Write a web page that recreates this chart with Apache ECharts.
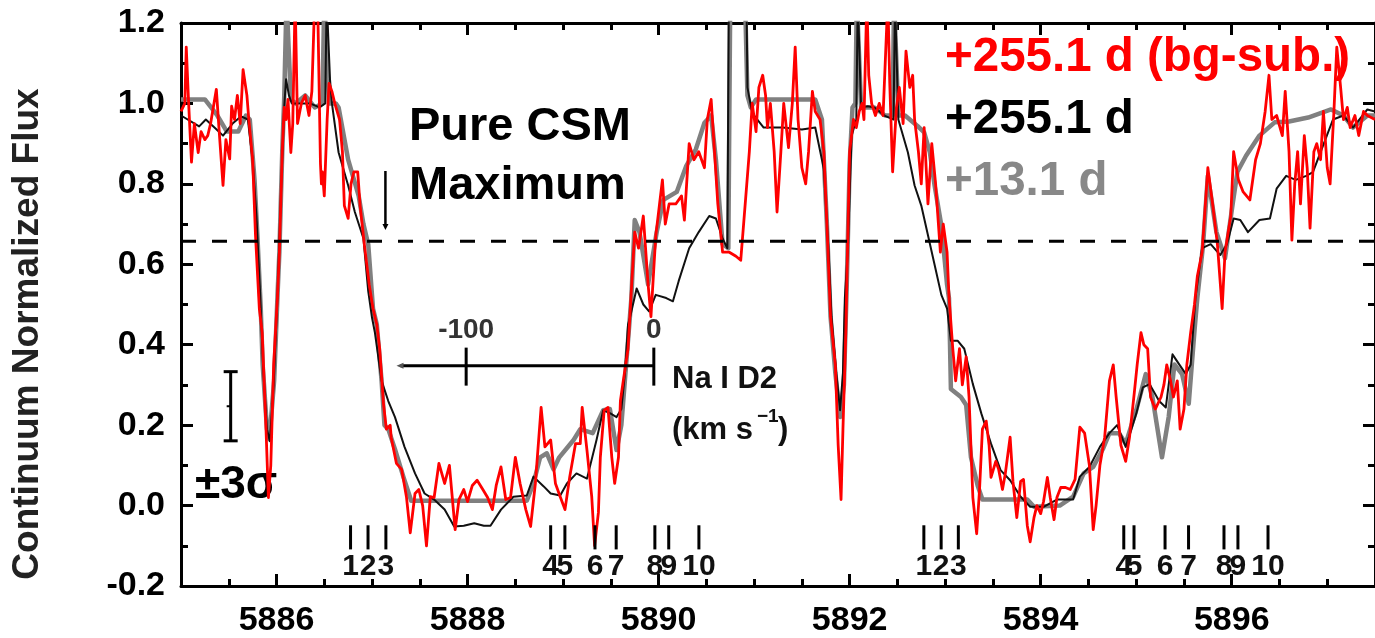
<!DOCTYPE html>
<html>
<head>
<meta charset="utf-8">
<script src="https://cdn.jsdelivr.net/npm/echarts@6/dist/echarts.min.js"></script>
<style>
html,body{margin:0;padding:0;background:#fff;}
#chart{width:1375px;height:638px;}
</style>
</head>
<body>
<div id="chart"></div>
<script>
// ---------------- DATA ----------------
const xMin = 5885, xMax = 5897.5;
const yMin = -0.2, yMax = 1.2;
const xMajorTicks = [5886, 5888, 5890, 5892, 5894, 5896];
const csmLevel = 0.657;            // "Pure CSM Maximum" dashed level
const arrowWave = 5887.14, arrowFrom = 0.832, arrowTo = 0.685;
const sigmaWave = 5885.52, sigmaLow = 0.161, sigmaMid = 0.247, sigmaHigh = 0.333;
const naD2Rest = 5889.95, lightSpeed = 299792.458;
const velTicks = [-100, 0];
const velTickLabels = ['-100', '0'];
const velBarStart = -135, velBarLevel = 0.348;
const markerWaves = [5886.775, 5886.958, 5887.145, 5888.870, 5889.019, 5889.334, 5889.556, 5889.961, 5890.106, 5890.422,
                     5892.777, 5892.958, 5893.138, 5894.870, 5894.977, 5895.302, 5895.548, 5895.919, 5896.065, 5896.380];
const markerLabels = ['1','2','3','4','5','6','7','8','9','10','1','2','3','4','5','6','7','8','9','10'];
const markerTop = -0.049, markerBottom = -0.109;

// +13.1 d (grey)
const greyData = [[5885.00,1.01],[5885.25,1.01],[5885.38,0.97],[5885.48,0.93],[5885.60,0.93],[5885.68,0.97],[5885.72,0.96],[5885.77,0.81],[5885.80,0.67],[5885.835,0.49],[5885.855,0.35],[5885.90,0.19],[5885.925,0.165],[5885.975,0.31],[5886.01,0.52],[5886.03,0.63],[5886.06,0.88],[5886.08,1.01],[5886.105,1.26],[5886.125,1.26],[5886.15,1.01],[5886.20,1.00],[5886.30,1.02],[5886.40,0.99],[5886.48,1.00],[5886.50,1.26],[5886.52,1.26],[5886.55,1.00],[5886.62,1.00],[5886.65,0.99],[5886.75,0.86],[5886.86,0.77],[5886.91,0.70],[5886.96,0.65],[5887.01,0.49],[5887.05,0.45],[5887.10,0.31],[5887.13,0.20],[5887.17,0.19],[5887.24,0.14],[5887.33,0.07],[5887.41,0.012],[5888.00,0.012],[5888.62,0.012],[5888.69,0.055],[5888.76,0.12],[5888.83,0.13],[5888.90,0.09],[5888.96,0.12],[5889.11,0.163],[5889.18,0.19],[5889.31,0.18],[5889.42,0.237],[5889.49,0.24],[5889.56,0.138],[5889.61,0.20],[5889.66,0.35],[5889.715,0.516],[5889.75,0.71],[5889.80,0.68],[5889.89,0.55],[5889.98,0.68],[5890.05,0.76],[5890.19,0.78],[5890.29,0.845],[5890.39,0.886],[5890.48,0.952],[5890.55,0.97],[5890.60,0.86],[5890.67,0.65],[5890.73,0.64],[5890.75,1.26],[5890.905,1.26],[5890.93,1.02],[5890.965,0.99],[5891.02,1.01],[5891.64,1.01],[5891.71,0.96],[5891.76,0.71],[5891.80,0.47],[5891.85,0.33],[5891.90,0.22],[5891.94,0.30],[5891.97,0.55],[5892.00,0.85],[5892.03,0.99],[5892.06,1.00],[5892.075,1.26],[5892.095,1.26],[5892.12,0.99],[5892.26,0.99],[5892.37,0.97],[5892.45,0.97],[5892.465,1.26],[5892.485,1.26],[5892.51,0.97],[5892.58,0.97],[5892.71,0.944],[5892.78,0.928],[5892.84,0.878],[5892.89,0.795],[5892.96,0.697],[5893.02,0.549],[5893.04,0.516],[5893.05,0.41],[5893.06,0.29],[5893.165,0.27],[5893.22,0.25],[5893.27,0.12],[5893.34,0.05],[5893.39,0.015],[5893.86,0.015],[5893.93,-0.003],[5894.20,0.0],[5894.34,0.022],[5894.45,0.08],[5894.55,0.096],[5894.65,0.14],[5894.72,0.18],[5894.82,0.18],[5894.89,0.154],[5895.00,0.237],[5895.10,0.327],[5895.17,0.27],[5895.27,0.12],[5895.34,0.22],[5895.40,0.351],[5895.48,0.327],[5895.55,0.253],[5895.61,0.434],[5895.64,0.516],[5895.70,0.648],[5895.75,0.82],[5895.84,0.68],[5895.93,0.615],[5896.01,0.75],[5896.06,0.83],[5896.15,0.87],[5896.29,0.92],[5896.45,0.953],[5896.60,0.955],[5896.80,0.965],[5897.04,0.985],[5897.17,0.97],[5897.27,0.94],[5897.42,0.97],[5897.50,0.97]];

// +255.1 d (black)
const blackData = [[5885.00,0.97],[5885.19,0.943],[5885.26,0.96],[5885.37,0.936],[5885.44,0.92],[5885.54,0.95],[5885.63,0.968],[5885.70,0.96],[5885.75,0.86],[5885.79,0.72],[5885.83,0.52],[5885.86,0.34],[5885.90,0.19],[5885.93,0.16],[5885.97,0.30],[5886.01,0.52],[5886.05,0.80],[5886.08,0.99],[5886.10,1.06],[5886.13,1.02],[5886.16,1.00],[5886.25,1.00],[5886.35,1.00],[5886.45,0.99],[5886.51,1.00],[5886.525,1.26],[5886.545,1.26],[5886.56,1.06],[5886.58,1.00],[5886.65,0.878],[5886.75,0.796],[5886.82,0.73],[5886.91,0.664],[5886.96,0.533],[5887.00,0.467],[5887.03,0.43],[5887.10,0.31],[5887.17,0.26],[5887.24,0.22],[5887.34,0.146],[5887.45,0.08],[5887.55,0.03],[5887.65,0.015],[5887.76,-0.01],[5887.86,-0.052],[5887.96,-0.05],[5888.07,-0.044],[5888.17,-0.05],[5888.24,-0.05],[5888.35,-0.01],[5888.48,0.022],[5888.62,0.025],[5888.69,0.072],[5888.80,0.047],[5888.87,0.03],[5888.97,0.025],[5889.04,0.055],[5889.14,0.08],[5889.25,0.067],[5889.35,0.163],[5889.42,0.237],[5889.49,0.23],[5889.56,0.22],[5889.61,0.24],[5889.65,0.335],[5889.68,0.45],[5889.70,0.467],[5889.77,0.54],[5889.84,0.50],[5889.90,0.483],[5889.97,0.524],[5890.08,0.516],[5890.15,0.508],[5890.21,0.558],[5890.32,0.64],[5890.42,0.68],[5890.53,0.72],[5890.60,0.714],[5890.67,0.664],[5890.72,0.64],[5890.735,1.26],[5890.92,1.26],[5890.93,1.04],[5890.98,0.976],[5891.10,0.94],[5891.30,0.94],[5891.50,0.935],[5891.64,0.94],[5891.73,0.837],[5891.78,0.63],[5891.81,0.47],[5891.86,0.33],[5891.90,0.237],[5891.93,0.33],[5891.95,0.516],[5891.98,0.63],[5892.02,0.919],[5892.07,0.96],[5892.085,1.26],[5892.105,1.26],[5892.12,0.99],[5892.19,0.993],[5892.26,0.99],[5892.37,0.969],[5892.46,0.96],[5892.475,1.26],[5892.495,1.26],[5892.51,0.96],[5892.61,0.878],[5892.68,0.796],[5892.75,0.746],[5892.82,0.672],[5892.89,0.598],[5892.96,0.524],[5893.02,0.49],[5893.06,0.41],[5893.13,0.41],[5893.20,0.39],[5893.29,0.302],[5893.38,0.228],[5893.48,0.154],[5893.58,0.088],[5893.68,0.063],[5893.79,0.022],[5893.89,-0.003],[5894.03,-0.003],[5894.17,0.015],[5894.34,0.015],[5894.41,0.072],[5894.51,0.096],[5894.62,0.146],[5894.72,0.18],[5894.80,0.20],[5894.89,0.146],[5895.00,0.228],[5895.07,0.294],[5895.14,0.302],[5895.24,0.26],[5895.31,0.244],[5895.38,0.376],[5895.45,0.351],[5895.52,0.327],[5895.57,0.35],[5895.62,0.516],[5895.69,0.64],[5895.78,0.65],[5895.88,0.623],[5895.95,0.65],[5896.02,0.714],[5896.09,0.71],[5896.17,0.68],[5896.29,0.71],[5896.40,0.714],[5896.47,0.788],[5896.57,0.82],[5896.67,0.81],[5896.78,0.82],[5896.85,0.829],[5896.98,0.91],[5897.06,0.96],[5897.17,0.97],[5897.27,0.94],[5897.42,0.985],[5897.50,0.98]];

// +255.1 d background-subtracted (red)
const redData = [[5885.00,0.98],[5885.04,1.00],[5885.055,1.14],[5885.08,1.00],[5885.11,0.854],[5885.14,0.95],[5885.18,0.878],[5885.21,0.93],[5885.25,0.91],[5885.28,0.92],[5885.31,0.95],[5885.37,1.035],[5885.40,0.93],[5885.44,0.796],[5885.47,0.91],[5885.51,0.862],[5885.53,0.993],[5885.56,0.96],[5885.59,1.02],[5885.62,0.95],[5885.65,1.084],[5885.69,1.02],[5885.71,0.96],[5885.75,0.86],[5885.78,0.672],[5885.82,0.49],[5885.85,0.43],[5885.89,0.19],[5885.915,0.02],[5885.94,0.10],[5885.97,0.35],[5886.01,0.52],[5886.03,0.63],[5886.06,0.88],[5886.08,0.99],[5886.10,0.96],[5886.12,1.01],[5886.15,0.878],[5886.17,0.95],[5886.195,1.26],[5886.22,0.95],[5886.26,1.00],[5886.30,1.02],[5886.34,0.97],[5886.37,1.03],[5886.40,1.26],[5886.43,1.26],[5886.46,0.85],[5886.47,0.80],[5886.48,0.83],[5886.50,0.77],[5886.53,0.96],[5886.55,1.05],[5886.58,1.03],[5886.61,1.00],[5886.66,0.96],[5886.69,0.88],[5886.71,0.746],[5886.75,0.714],[5886.78,0.80],[5886.81,0.83],[5886.85,0.83],[5886.875,0.746],[5886.92,0.648],[5886.97,0.55],[5887.01,0.49],[5887.05,0.45],[5887.08,0.39],[5887.12,0.253],[5887.15,0.19],[5887.19,0.20],[5887.20,0.17],[5887.255,0.105],[5887.31,0.09],[5887.36,0.022],[5887.40,-0.068],[5887.45,0.03],[5887.49,0.04],[5887.53,0.0],[5887.57,-0.10],[5887.61,0.022],[5887.65,0.02],[5887.70,0.105],[5887.76,0.055],[5887.81,0.10],[5887.87,-0.06],[5887.91,0.015],[5887.96,0.04],[5888.00,0.01],[5888.05,0.05],[5888.10,0.063],[5888.16,0.04],[5888.21,0.02],[5888.26,-0.01],[5888.30,0.05],[5888.35,0.096],[5888.40,0.015],[5888.45,0.02],[5888.50,0.12],[5888.55,0.055],[5888.61,-0.01],[5888.66,-0.052],[5888.71,0.055],[5888.77,0.244],[5888.81,0.146],[5888.87,0.163],[5888.92,0.055],[5888.97,0.022],[5889.02,-0.01],[5889.07,0.072],[5889.13,0.154],[5889.18,0.154],[5889.20,0.244],[5889.25,0.138],[5889.30,0.022],[5889.33,-0.10],[5889.37,-0.017],[5889.39,0.12],[5889.43,0.237],[5889.47,0.244],[5889.51,0.12],[5889.54,0.055],[5889.58,0.12],[5889.60,0.26],[5889.63,0.31],[5889.68,0.39],[5889.71,0.516],[5889.75,0.68],[5889.79,0.64],[5889.84,0.72],[5889.89,0.55],[5889.92,0.47],[5889.97,0.67],[5890.01,0.75],[5890.04,0.81],[5890.07,0.70],[5890.11,0.75],[5890.18,0.75],[5890.24,0.77],[5890.27,0.71],[5890.32,0.90],[5890.37,0.86],[5890.42,0.88],[5890.48,0.84],[5890.51,0.96],[5890.55,1.01],[5890.58,0.90],[5890.62,0.75],[5890.67,0.63],[5890.74,0.63],[5890.81,0.62],[5890.86,0.61],[5890.89,0.70],[5890.95,0.88],[5890.98,1.00],[5891.02,0.93],[5891.05,1.04],[5891.09,1.07],[5891.12,1.02],[5891.14,0.94],[5891.17,1.00],[5891.21,0.88],[5891.24,0.73],[5891.28,0.88],[5891.31,1.00],[5891.36,0.89],[5891.40,1.00],[5891.43,1.14],[5891.46,0.96],[5891.50,0.84],[5891.54,0.80],[5891.57,0.88],[5891.61,1.03],[5891.64,0.98],[5891.69,0.96],[5891.73,0.88],[5891.76,0.71],[5891.80,0.47],[5891.85,0.35],[5891.88,0.15],[5891.91,0.015],[5891.93,0.19],[5891.96,0.43],[5891.97,0.55],[5892.00,0.88],[5892.04,0.96],[5892.07,0.94],[5892.10,0.98],[5892.13,1.00],[5892.15,0.96],[5892.18,1.26],[5892.20,1.07],[5892.23,1.00],[5892.27,0.97],[5892.31,1.00],[5892.35,0.97],[5892.40,1.26],[5892.42,1.05],[5892.45,0.83],[5892.49,0.99],[5892.52,1.04],[5892.56,0.95],[5892.59,1.13],[5892.63,1.04],[5892.66,1.07],[5892.68,0.96],[5892.72,0.88],[5892.75,0.80],[5892.78,0.94],[5892.82,0.75],[5892.86,0.90],[5892.90,0.80],[5892.95,0.63],[5892.98,0.70],[5893.02,0.63],[5893.04,0.52],[5893.08,0.39],[5893.11,0.31],[5893.15,0.39],[5893.18,0.30],[5893.22,0.37],[5893.25,0.27],[5893.29,0.02],[5893.33,-0.07],[5893.36,0.04],[5893.39,0.19],[5893.43,0.21],[5893.46,0.15],[5893.48,0.07],[5893.53,0.11],[5893.56,0.09],[5893.60,0.04],[5893.63,0.08],[5893.68,0.17],[5893.71,0.06],[5893.75,-0.03],[5893.79,0.06],[5893.82,0.065],[5893.86,-0.05],[5893.89,-0.09],[5893.93,-0.03],[5893.96,0.0],[5894.00,-0.02],[5894.03,0.01],[5894.07,0.07],[5894.10,0.02],[5894.14,-0.035],[5894.17,0.02],[5894.21,0.045],[5894.26,0.045],[5894.31,0.04],[5894.36,0.065],[5894.41,0.195],[5894.46,0.18],[5894.51,0.10],[5894.55,-0.06],[5894.58,0.0],[5894.62,0.10],[5894.67,0.17],[5894.72,0.31],[5894.76,0.35],[5894.79,0.27],[5894.84,0.15],[5894.89,0.11],[5894.93,0.17],[5894.98,0.28],[5895.01,0.35],[5895.05,0.43],[5895.08,0.40],[5895.12,0.39],[5895.15,0.27],[5895.20,0.24],[5895.26,0.27],[5895.29,0.30],[5895.32,0.35],[5895.36,0.31],[5895.39,0.27],[5895.43,0.31],[5895.46,0.19],[5895.50,0.24],[5895.53,0.35],[5895.57,0.43],[5895.61,0.50],[5895.64,0.57],[5895.69,0.63],[5895.75,0.84],[5895.80,0.75],[5895.85,0.65],[5895.90,0.49],[5895.93,0.63],[5895.99,0.72],[5896.02,0.88],[5896.07,0.81],[5896.12,0.78],[5896.19,0.76],[5896.25,0.86],[5896.30,0.90],[5896.35,0.98],[5896.39,1.07],[5896.42,0.96],[5896.47,0.97],[5896.53,0.92],[5896.56,1.03],[5896.60,0.88],[5896.63,0.66],[5896.66,0.80],[5896.69,0.88],[5896.72,0.75],[5896.76,0.92],[5896.79,0.84],[5896.82,0.69],[5896.86,0.88],[5896.89,0.90],[5896.93,0.86],[5896.96,0.98],[5897.00,0.84],[5897.03,0.80],[5897.07,0.98],[5897.10,1.14],[5897.14,1.04],[5897.17,0.96],[5897.21,0.99],[5897.24,0.94],[5897.29,0.97],[5897.33,0.92],[5897.38,0.98],[5897.42,0.97],[5897.50,0.96]];

// ---------------- CHART ----------------
const FONT = '"Liberation Sans", Arial, Helvetica, sans-serif';
const chart = echarts.init(document.getElementById('chart'), null, {renderer: 'canvas'});

const minorX = [];
for (let k = 0; k <= (xMax - xMin) / 0.5; k++) minorX.push(xMin + k * 0.5);

function velToWave(v) { return naD2Rest * (1 + v / lightSpeed); }

function xAxisDef(pos, major, showLabel) {
  return {
    type: 'value', min: xMin, max: xMax, position: pos,
    axisLine: {show: major, onZero: false, lineStyle: {color: '#000', width: 3}},
    axisTick: {show: true, inside: true, length: major ? 12 : 7,
               lineStyle: {color: '#000', width: 3},
               customValues: major ? xMajorTicks : minorX},
    axisLabel: {show: showLabel, customValues: xMajorTicks, margin: 18,
                fontFamily: FONT, fontSize: 34, fontWeight: 'bold', color: '#000',
                formatter: v => String(Math.round(v))},
    splitLine: {show: false}
  };
}
function yAxisDef(pos, showLabel) {
  return {
    type: 'value', min: yMin, max: yMax, interval: 0.2, position: pos,
    axisLine: {show: true, onZero: false, lineStyle: {color: '#000', width: 3}},
    axisTick: {show: true, inside: true, length: 12, lineStyle: {color: '#000', width: 3}},
    minorTick: {show: true, splitNumber: 2, length: 7, lineStyle: {color: '#000', width: 3}},
    axisLabel: {show: showLabel, margin: 16, fontFamily: FONT, fontSize: 34, fontWeight: 'bold', color: '#000',
                formatter: v => v.toFixed(1)},
    splitLine: {show: false}, minorSplitLine: {show: false}
  };
}

function renderAnnotations(params, api) {
  const c = (x, y) => api.coord([x, y]);
  const ch = [];
  const black = '#000';
  // dashed CSM level
  const d0 = c(xMin, csmLevel), d1 = c(xMax, csmLevel);
  ch.push({type: 'line', shape: {x1: d0[0], y1: d0[1], x2: d1[0], y2: d1[1]},
           style: {stroke: black, lineWidth: 3, lineDash: [15, 16]}});
  // arrow from label to dashed line
  const a0 = c(arrowWave, arrowFrom), a1 = c(arrowWave, arrowTo);
  ch.push({type: 'line', shape: {x1: a0[0], y1: a0[1], x2: a1[0], y2: a1[1] - 3}, style: {stroke: black, lineWidth: 2.5}});
  ch.push({type: 'polygon', shape: {points: [[a1[0] - 3, a1[1] - 6], [a1[0] + 3, a1[1] - 6], [a1[0], a1[1]]]}, style: {fill: black}});
  // +-3 sigma error bar
  const s0 = c(sigmaWave, sigmaLow), s1 = c(sigmaWave, sigmaHigh), sm = c(sigmaWave, sigmaMid);
  ch.push({type: 'line', shape: {x1: s0[0], y1: s0[1], x2: s1[0], y2: s1[1]}, style: {stroke: black, lineWidth: 3}});
  ch.push({type: 'line', shape: {x1: s0[0] - 7, y1: s0[1], x2: s0[0] + 7, y2: s0[1]}, style: {stroke: black, lineWidth: 3}});
  ch.push({type: 'line', shape: {x1: s1[0] - 7, y1: s1[1], x2: s1[0] + 7, y2: s1[1]}, style: {stroke: black, lineWidth: 3}});
  ch.push({type: 'line', shape: {x1: sm[0] - 4, y1: sm[1], x2: sm[0], y2: sm[1]}, style: {stroke: black, lineWidth: 2}});
  // velocity scale (Na I D2)
  const v0 = c(velToWave(velBarStart), velBarLevel), v1 = c(velToWave(0), velBarLevel);
  ch.push({type: 'line', shape: {x1: v0[0], y1: v0[1], x2: v1[0], y2: v1[1]}, style: {stroke: black, lineWidth: 3}});
  ch.push({type: 'polygon', shape: {points: [[v0[0] - 4, v0[1]], [v0[0] + 3, v0[1] - 3], [v0[0] + 3, v0[1] + 3]]}, style: {fill: '#555'}});
  velTicks.forEach((v, i) => {
    const p = c(velToWave(v), velBarLevel);
    ch.push({type: 'line', shape: {x1: p[0], y1: p[1] - 18, x2: p[0], y2: p[1] + 20}, style: {stroke: black, lineWidth: 3}});
    ch.push({type: 'text', x: p[0], y: p[1] - 35,
             style: {text: velTickLabels[i], font: 'bold 28px ' + FONT, fill: '#333', align: 'center', verticalAlign: 'middle'}});
  });
  // numbered component markers
  markerWaves.forEach((w, i) => {
    const t = c(w, markerTop), b = c(w, markerBottom);
    ch.push({type: 'line', shape: {x1: t[0], y1: t[1], x2: b[0], y2: b[1]}, style: {stroke: black, lineWidth: 3}});
    ch.push({type: 'text', x: b[0], y: b[1] + 17,
             style: {text: markerLabels[i], font: 'bold 30px ' + FONT, fill: '#111', align: 'center', verticalAlign: 'middle'}});
  });
  return {type: 'group', children: ch};
}

const option = {
  animation: false,
  backgroundColor: '#fff',
  grid: {left: 181, right: -9, top: 23, bottom: 48, containLabel: false},
  xAxis: [xAxisDef('bottom', true, true), xAxisDef('bottom', false, false),
          xAxisDef('top', true, false), xAxisDef('top', false, false)],
  yAxis: [yAxisDef('left', true), yAxisDef('right', false)],
  series: [
    {name: '+13.1 d', type: 'line', data: greyData, xAxisIndex: 0, yAxisIndex: 0, showSymbol: false, symbol: 'none',
     z: 2, clip: true, lineStyle: {color: '#808080', width: 4.5, join: 'round'}},
    {name: '+255.1 d', type: 'line', data: blackData, xAxisIndex: 0, yAxisIndex: 0, showSymbol: false, symbol: 'none',
     z: 3, clip: true, lineStyle: {color: '#111', width: 2, join: 'round'}},
    {name: '+255.1 d (bg-sub.)', type: 'line', data: redData, xAxisIndex: 0, yAxisIndex: 0, showSymbol: false, symbol: 'none',
     z: 4, clip: true, lineStyle: {color: '#ff0000', width: 2.8, join: 'round'}},
    {type: 'custom', coordinateSystem: 'cartesian2d', xAxisIndex: 0, yAxisIndex: 0, data: [[xMin, yMin]],
     z: 10, silent: true, clip: false, renderItem: renderAnnotations}
  ],
  graphic: [
    {type: 'text', x: 28, y: 334, rotation: Math.PI / 2,
     style: {text: 'Continuum Normalized Flux', font: 'bold 37px ' + FONT, fill: '#222', align: 'center', verticalAlign: 'middle'}},
    {type: 'text', x: 409, y: 127, style: {text: 'Pure CSM', font: 'bold 47px ' + FONT, fill: '#000', align: 'left', verticalAlign: 'middle'}},
    {type: 'text', x: 409, y: 186, style: {text: 'Maximum', font: 'bold 47px ' + FONT, fill: '#000', align: 'left', verticalAlign: 'middle'}},
    {type: 'text', x: 945, y: 58, style: {text: '+255.1 d (bg-sub.)', font: 'bold 47.5px ' + FONT, fill: '#ff0000', align: 'left', verticalAlign: 'middle'}},
    {type: 'text', x: 945, y: 120, style: {text: '+255.1 d', font: 'bold 47.5px ' + FONT, fill: '#000', align: 'left', verticalAlign: 'middle'}},
    {type: 'text', x: 945, y: 182, style: {text: '+13.1 d', font: 'bold 47.5px ' + FONT, fill: '#888', align: 'left', verticalAlign: 'middle'}},
    {type: 'text', x: 195, y: 485, style: {text: '±3σ', font: 'bold 46px ' + FONT, fill: '#000', align: 'left', verticalAlign: 'middle'}},
    {type: 'text', x: 672, y: 379, style: {text: 'Na I D2', font: 'bold 31px ' + FONT, fill: '#111', align: 'left', verticalAlign: 'middle'}},
    {type: 'text', x: 672, y: 430, style: {text: '(km s', font: 'bold 31px ' + FONT, fill: '#111', align: 'left', verticalAlign: 'middle'}},
    {type: 'text', x: 757, y: 417, style: {text: '−1', font: 'bold 19px ' + FONT, fill: '#111', align: 'left', verticalAlign: 'middle'}},
    {type: 'text', x: 778, y: 430, style: {text: ')', font: 'bold 31px ' + FONT, fill: '#111', align: 'left', verticalAlign: 'middle'}}
  ]
};
chart.setOption(option);
</script>
</body>
</html>
